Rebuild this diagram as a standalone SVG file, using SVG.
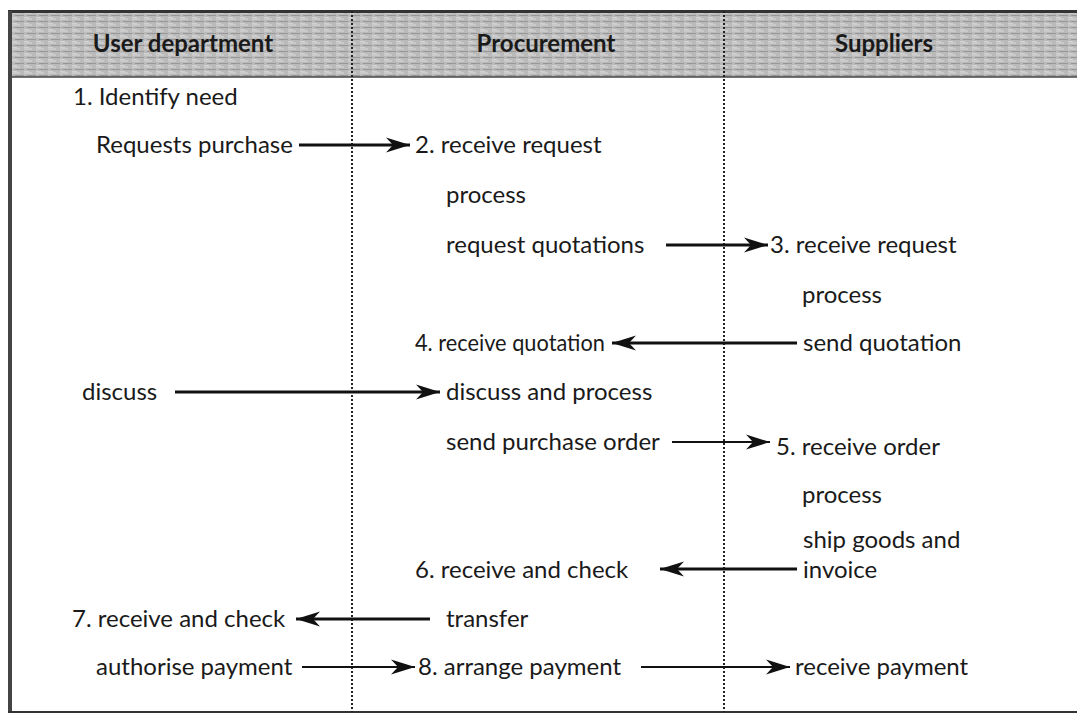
<svg xmlns="http://www.w3.org/2000/svg" width="1077" height="715" viewBox="0 0 1077 715">
<style>
.t{font-family:Lato,"Open Sans","Liberation Sans",sans-serif;font-size:24px;fill:#1a1a1a}
.h{font-family:Lato,"Open Sans","Liberation Sans",sans-serif;font-size:24px;font-weight:bold;fill:#1a1a1a;text-anchor:middle}
.c{stroke:#111;stroke-width:3;fill:none}
.c2{stroke:#111;stroke-width:2;fill:none}
.div{stroke:#222;stroke-width:2;stroke-dasharray:2 2;fill:none}
</style>
<defs>
<pattern id="tex" width="12" height="6" patternUnits="userSpaceOnUse">
<rect width="12" height="6" fill="#bababa"/>
<line x1="0" y1="1" x2="8" y2="1" stroke="#dadada" stroke-width="1"/>
<line x1="3" y1="3.5" x2="12" y2="3.5" stroke="#979797" stroke-width="1"/>
<line x1="0" y1="5.5" x2="5" y2="5.5" stroke="#d2d2d2" stroke-width="1"/>
</pattern>
<marker id="ah" markerUnits="userSpaceOnUse" markerWidth="26" markerHeight="18" refX="24" refY="9" orient="auto">
<path d="M0,1.5 L24,9 L0,16.5 L7,9 Z" fill="#111"/>
</marker>
</defs>
<rect width="1077" height="715" fill="#fff"/>
<g id="header">
<rect x="8" y="11" width="1069" height="66" fill="url(#tex)"/>
<line x1="8" y1="11.5" x2="1077" y2="11.5" stroke="#333" stroke-width="3"/>
<line x1="8" y1="77" x2="1077" y2="77" stroke="#444" stroke-width="1.5"/>
<text class="h" x="183" y="52">User department</text>
<text class="h" x="546" y="52">Procurement</text>
<text class="h" x="884" y="52">Suppliers</text>
</g>
<g id="frame">
<line x1="10" y1="11" x2="10" y2="713" stroke="#444" stroke-width="4"/>
<line x1="8" y1="712" x2="1077" y2="712" stroke="#333" stroke-width="2"/>
<line class="div" x1="352" y1="11" x2="352" y2="712"/>
<line class="div" x1="724" y1="11" x2="724" y2="712"/>
</g>
<g id="user">
<text class="t" x="73" y="105">1. Identify need</text>
<text class="t" x="96" y="153">Requests purchase</text>
<text class="t" x="82" y="400">discuss</text>
<text class="t" x="72" y="627">7. receive and check</text>
<text class="t" x="96" y="675">authorise payment</text>
</g>
<g id="procurement">
<text class="t" x="415" y="153">2. receive request</text>
<text class="t" x="446" y="203">process</text>
<text class="t" x="446" y="253">request quotations</text>
<text class="t" x="415" y="351" textLength="190" lengthAdjust="spacingAndGlyphs">4. receive quotation</text>
<text class="t" x="446" y="400">discuss and process</text>
<text class="t" x="446" y="450">send purchase order</text>
<text class="t" x="415" y="578">6. receive and check</text>
<text class="t" x="446" y="627">transfer</text>
<text class="t" x="418" y="675">8. arrange payment</text>
</g>
<g id="suppliers">
<text class="t" x="770" y="253">3. receive request</text>
<text class="t" x="802" y="303">process</text>
<text class="t" x="803" y="351">send quotation</text>
<text class="t" x="776" y="455">5. receive order</text>
<text class="t" x="802" y="503">process</text>
<text class="t" x="803" y="548">ship goods and</text>
<text class="t" x="803" y="578">invoice</text>
<text class="t" x="795" y="675">receive payment</text>
</g>
<g id="connectors">
<line class="c" x1="299" y1="145" x2="410" y2="145" marker-end="url(#ah)"/>
<line class="c" x1="666" y1="245" x2="768" y2="245" marker-end="url(#ah)"/>
<line class="c" x1="797" y1="343" x2="612" y2="343" marker-end="url(#ah)"/>
<line class="c" x1="175" y1="392" x2="440" y2="392" marker-end="url(#ah)"/>
<line class="c2" x1="672" y1="442" x2="770" y2="442" marker-end="url(#ah)"/>
<line class="c" x1="797" y1="569" x2="660" y2="569" marker-end="url(#ah)"/>
<line class="c" x1="430" y1="619" x2="296" y2="619" marker-end="url(#ah)"/>
<line class="c2" x1="302" y1="667" x2="415" y2="667" marker-end="url(#ah)"/>
<line class="c2" x1="641" y1="667" x2="790" y2="667" marker-end="url(#ah)"/>
</g>
</svg>
